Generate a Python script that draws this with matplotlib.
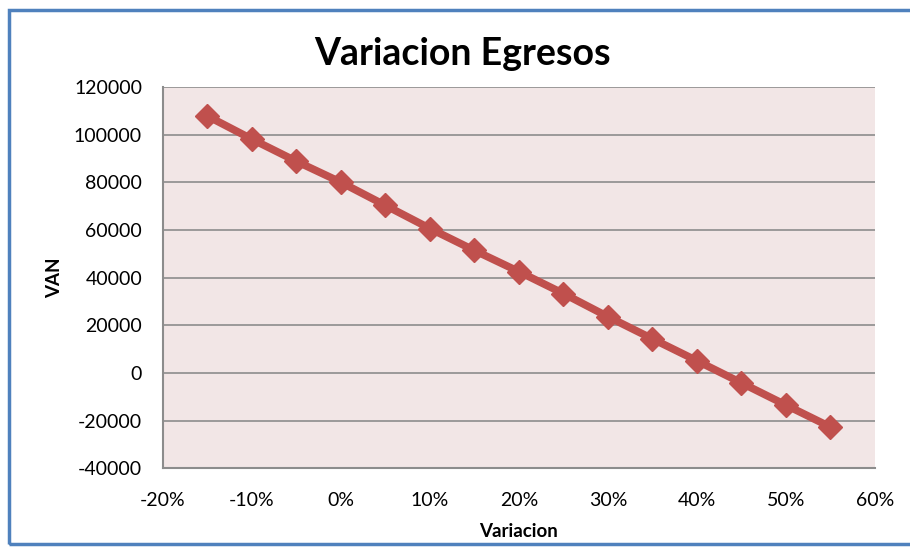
import matplotlib
matplotlib.use("Agg")
import matplotlib.pyplot as plt
from matplotlib.patches import Rectangle
from matplotlib.ticker import FuncFormatter

# sensitivity of VAN to changes in expenses
variacion = [-0.15, -0.10, -0.05, 0.00, 0.05, 0.10, 0.15, 0.20, 0.25,
             0.30, 0.35, 0.40, 0.45, 0.50, 0.55]
van = [107800, 98100, 88800, 80000, 70300, 60600, 51400, 42500, 33300,
       23600, 14300, 5100, -4200, -13500, -22700]
x_ticks = [-0.2, -0.1, 0.0, 0.1, 0.2, 0.3, 0.4, 0.5, 0.6]
y_ticks = [-40000, -20000, 0, 20000, 40000, 60000, 80000, 100000, 120000]

plt.rcParams['font.family'] = ['Lato', 'DejaVu Sans']

fig = plt.figure(figsize=(9.1, 5.47), dpi=100)
ax = fig.add_axes([0.179, 0.144, 0.7825, 0.697])
ax.set_facecolor('#f2e6e6')

ax.plot(variacion, van, color='#c0504d', lw=5.5, marker='D', ms=12,
        markeredgecolor='#c0504d', solid_joinstyle='round', zorder=3)

ax.set_xlim(-0.2, 0.6)
ax.set_ylim(-40000, 120000)
ax.set_xticks(x_ticks)
ax.set_yticks(y_ticks)
ax.xaxis.set_major_formatter(FuncFormatter(lambda v, _: f"{v*100:.0f}%"))
ax.yaxis.set_major_formatter(FuncFormatter(lambda v, _: f"{v:.0f}"))
ax.tick_params(length=0, labelsize=14)
ax.tick_params(axis='y', pad=15)
ax.tick_params(axis='x', pad=17)
ax.grid(axis='y', color='#8c8c8c', lw=1.2)
ax.set_axisbelow(True)
for s in ['top', 'right']:
    ax.spines[s].set_visible(False)
for s in ['left', 'bottom']:
    ax.spines[s].set_color('#8c8c8c')
    ax.spines[s].set_linewidth(1.5)

ax.set_xlabel('Variacion', fontsize=13.5, fontweight='bold', labelpad=10)
ax.set_ylabel('VAN', fontsize=13.5, fontweight='bold', labelpad=8)
fig.text(0.508, 0.902, 'Variacion Egresos', ha='center', va='center',
         fontsize=27, fontweight='bold')

# outer chart frame
fig.patches.append(Rectangle((0.0099, 0.0055), 1.05, 0.977, transform=fig.transFigure,
                             fill=False, edgecolor='#4f81bd', lw=2.5))

fig.savefig('out.png', dpi=100)
